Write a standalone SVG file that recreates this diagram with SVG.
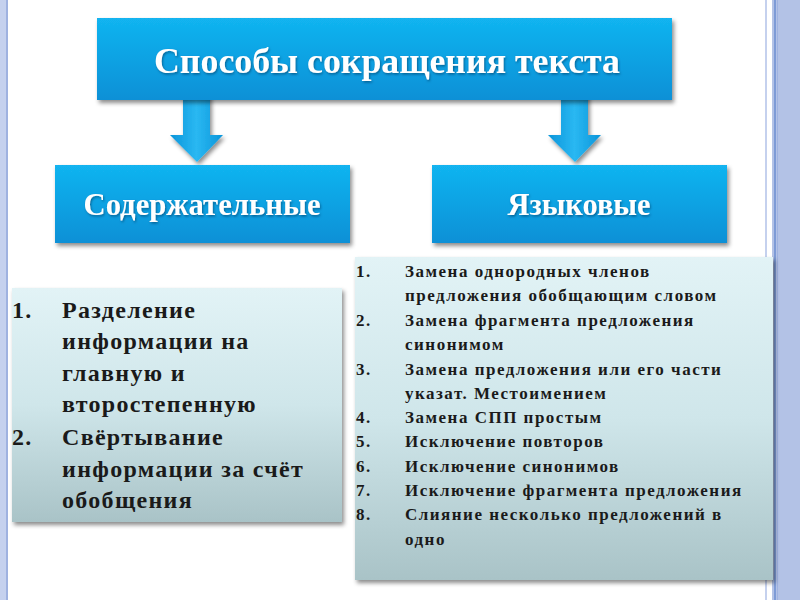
<svg xmlns="http://www.w3.org/2000/svg" width="800" height="600" viewBox="0 0 800 600">
<style>
.bt{font-family:"Liberation Serif","Times New Roman",serif;font-weight:bold;fill:#ffffff;text-anchor:middle}
.lt{font-family:"Liberation Serif","Times New Roman",serif;font-weight:bold;fill:#1a1a1a;font-size:24px;letter-spacing:1.3px}
.rt{font-family:"Liberation Serif","Times New Roman",serif;font-weight:bold;fill:#1a1a1a;font-size:17px;letter-spacing:1.5px}
</style>
<defs>
<linearGradient id="blue" x1="0" y1="0" x2="0" y2="1">
<stop offset="0" stop-color="#12b4f0"/>
<stop offset="1" stop-color="#0790d6"/>
</linearGradient>
<linearGradient id="arr" x1="0" y1="0" x2="1" y2="0">
<stop offset="0" stop-color="#0b95da"/>
<stop offset="0.5" stop-color="#2ab8f2"/>
<stop offset="1" stop-color="#0b95da"/>
</linearGradient>
<linearGradient id="pale" x1="0" y1="0" x2="0" y2="1">
<stop offset="0" stop-color="#e2f3f6"/>
<stop offset="0.5" stop-color="#cfe6ea"/>
<stop offset="1" stop-color="#a9c3c7"/>
</linearGradient>
<filter id="sh" x="-10%" y="-10%" width="125%" height="130%">
<feDropShadow dx="2" dy="3" stdDeviation="2" flood-color="#000" flood-opacity="0.45"/>
</filter>
<filter id="ts" x="-5%" y="-20%" width="110%" height="150%">
<feDropShadow dx="1" dy="1.5" stdDeviation="1" flood-color="#003a66" flood-opacity="0.6"/>
</filter>
</defs>
<rect width="800" height="600" fill="#ffffff"/>
<g id="frame">
<rect x="0" y="0" width="8" height="600" fill="#c5d1ee"/>
<rect x="6" y="0" width="2" height="600" fill="#9fb2e0"/>
<rect x="765" y="0" width="2" height="600" fill="#c5d1ee"/>
<rect x="772" y="0" width="28" height="600" fill="#b3c2e6"/>
<rect x="774" y="0" width="2" height="600" fill="#7e9bd6"/>
<rect x="777" y="0" width="1" height="600" fill="#9fb2e0"/>
</g>
<g id="connectors">
<path d="M183,92 H210 V135 H223 L197,162 L170,135 H183 Z" fill="url(#arr)" filter="url(#sh)"/>
<path d="M561,92 H588 V135 H601 L575,162 L548,135 H561 Z" fill="url(#arr)" filter="url(#sh)"/>
</g>
<g id="root">
<rect x="97" y="18" width="575" height="82" fill="url(#blue)" filter="url(#sh)"/>
<text class="bt" x="387" y="73" font-size="36" textLength="466" lengthAdjust="spacingAndGlyphs" filter="url(#ts)">Способы сокращения текста</text>
</g>
<g id="content">
<rect x="55" y="165" width="295" height="78" fill="url(#blue)" filter="url(#sh)"/>
<text class="bt" x="202" y="215" font-size="32" textLength="237" lengthAdjust="spacingAndGlyphs" filter="url(#ts)">Содержательные</text>
</g>
<g id="language">
<rect x="432" y="165" width="295" height="78" fill="url(#blue)" filter="url(#sh)"/>
<text class="bt" x="579" y="215" font-size="32" textLength="143" lengthAdjust="spacingAndGlyphs" filter="url(#ts)">Языковые</text>
</g>
<g id="content-list">
<rect x="12" y="288" width="330" height="234" fill="url(#pale)" filter="url(#sh)"/>
<text class="lt" x="12" y="318">1.</text><text class="lt" x="62" y="318">Разделение</text>
<text class="lt" x="62" y="349">информации на</text>
<text class="lt" x="62" y="381">главную и</text>
<text class="lt" x="62" y="412">второстепенную</text>
<text class="lt" x="12" y="445">2.</text><text class="lt" x="62" y="445">Свёртывание</text>
<text class="lt" x="62" y="477">информации за счёт</text>
<text class="lt" x="62" y="508">обобщения</text>
</g>
<g id="language-list">
<rect x="355" y="257" width="418" height="323" fill="url(#pale)" filter="url(#sh)"/>
<text class="rt" x="356" y="277">1.</text><text class="rt" x="405" y="277">Замена однородных членов</text>
<text class="rt" x="405" y="301">предложения обобщающим словом</text>
<text class="rt" x="356" y="326">2.</text><text class="rt" x="405" y="326">Замена фрагмента предложения</text>
<text class="rt" x="405" y="350">синонимом</text>
<text class="rt" x="356" y="375">3.</text><text class="rt" x="405" y="375">Замена предложения или его части</text>
<text class="rt" x="405" y="399">указат. Местоимением</text>
<text class="rt" x="356" y="423">4.</text><text class="rt" x="405" y="423">Замена СПП простым</text>
<text class="rt" x="356" y="447">5.</text><text class="rt" x="405" y="447">Исключение повторов</text>
<text class="rt" x="356" y="472">6.</text><text class="rt" x="405" y="472">Исключение синонимов</text>
<text class="rt" x="356" y="496">7.</text><text class="rt" x="405" y="496">Исключение фрагмента предложения</text>
<text class="rt" x="356" y="520">8.</text><text class="rt" x="405" y="520">Слияние несколько предложений в</text>
<text class="rt" x="405" y="545">одно</text>
</g>
</svg>
